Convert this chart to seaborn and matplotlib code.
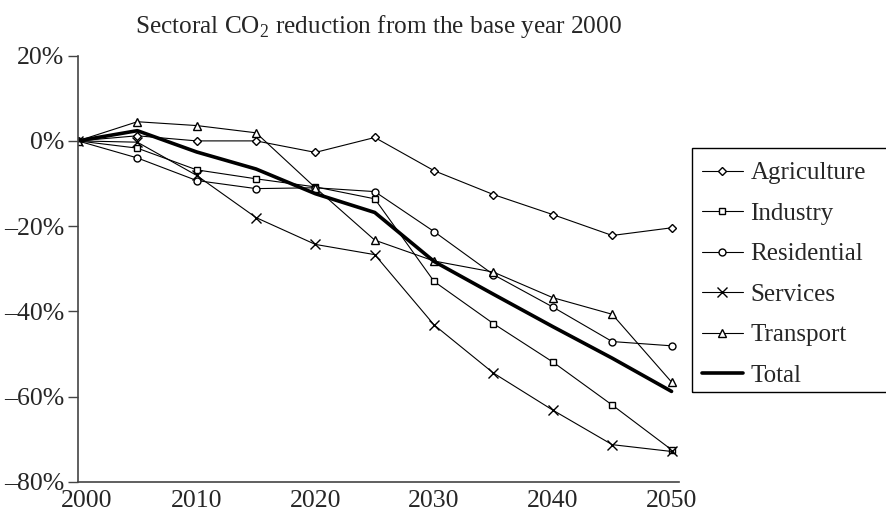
import matplotlib
matplotlib.use("Agg")
import matplotlib.pyplot as plt
import matplotlib.transforms as mtransforms
from matplotlib.patches import Rectangle
from matplotlib.ticker import FuncFormatter
import seaborn as sns

years = [2000, 2005, 2010, 2015, 2020, 2025, 2030, 2035, 2040, 2045, 2050]
agriculture = [0, 1.2, 0, 0, -2.7, 0.8, -7.0, -12.6, -17.3, -22.2, -20.4]
industry = [0, -1.7, -6.8, -8.9, -10.8, -13.6, -33.0, -42.9, -51.9, -62.0, -72.5]
residential = [0, -4.0, -9.3, -11.2, -11.0, -11.9, -21.3, -31.4, -39.0, -47.1, -48.1]
services = [0, -0.3, -8.1, -18.0, -24.3, -26.7, -43.2, -54.5, -63.2, -71.3, -72.9]
transport = [0, 4.5, 3.6, 1.9, -11.0, -23.3, -28.2, -30.8, -36.8, -40.7, -56.6]
total = [0, 2.4, -2.6, -6.6, -12.4, -16.8, -28.3, -36.0, -43.6, -51.0, -58.8]

sectors = ["Agriculture", "Industry", "Residential", "Services", "Transport", "Total"]
series = [agriculture, industry, residential, services, transport, total]
markers = ["D", "s", "o", "x", "^", None]
msizes = [4.5, 5, 5, 6.5, 6, 0]

xticks = [2000, 2010, 2020, 2030, 2040, 2050]
xtick_labels = ["2000", "2010", "2020", "2030", "2040", "2050"]

sns.set_style("white")
plt.rcParams["font.family"] = ["Liberation Serif", "DejaVu Serif"]
plt.rcParams["mathtext.fontset"] = "custom"
plt.rcParams["mathtext.rm"] = "Liberation Serif"

fig = plt.figure(figsize=(8.86, 5.21), dpi=100)
ax = fig.add_axes([0.088, 0.0754, 0.678, 0.8177])

for name, vals, mk, ms in zip(sectors, series, markers, msizes):
    lw = 2.6 if name == "Total" else 0.8
    sns.lineplot(
        x=years, y=vals, ax=ax, color="black", linewidth=lw,
        marker=mk, markersize=ms, markerfacecolor="white",
        markeredgecolor="black", markeredgewidth=1.0, label=name,
    )

ax.set_xlim(2000, 2050.6)
ax.set_ylim(-80, 20)
ax.set_xticks(xticks)
ax.set_xticklabels(xtick_labels, family="Liberation Serif")
ax.set_yticks(range(-80, 21, 20))
ax.yaxis.set_major_formatter(FuncFormatter(lambda v, p: f"{v:.0f}%".replace("-", "\u2013")))
ax.tick_params(axis="x", length=0, pad=6, labelsize=18.5)
ax.tick_params(axis="y", length=7, width=1, color="#444444", pad=3, labelsize=18.5, left=True)
for side in ["top", "right"]:
    ax.spines[side].set_visible(False)
for side in ["left", "bottom"]:
    ax.spines[side].set_color("#444444")
    ax.spines[side].set_linewidth(1.2)

# first year label sits a bit right of the axis, clear of the -80% label
first = ax.get_xticklabels()[0]
first.set_transform(first.get_transform() + mtransforms.ScaledTranslation(9 / 100, 0, fig.dpi_scale_trans))

ax.set_title("Sectoral CO$_2$ reduction from the base year 2000", fontsize=18.2, pad=16)

leg = ax.legend(loc="upper left", bbox_to_anchor=(1.0216, 0.774), frameon=False,
                fontsize=18, handlelength=1.65, handletextpad=0.3, labelspacing=0.72,
                borderaxespad=0)
fig.add_artist(Rectangle((692 / 886, 1 - 391.7 / 521), 0.3, 244 / 521,
                         transform=fig.transFigure, fill=False, edgecolor="black",
                         linewidth=1.0))

fig.savefig("out.png", dpi=100)
